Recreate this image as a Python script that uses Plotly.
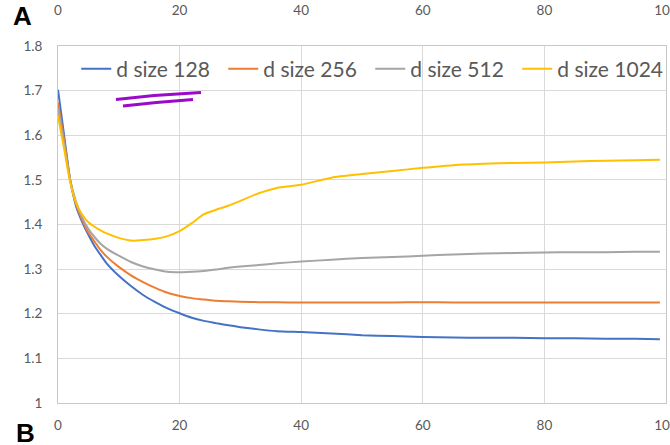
import plotly.graph_objects as go

# ---- data ----
x_vals = [0, 1, 2, 3, 4, 5, 6, 7, 8, 10, 12, 14, 16, 18, 20, 22, 24, 26, 28, 30,
          33, 36, 40, 45, 50, 55, 60, 65, 70, 75, 80, 85, 90, 95, 99]

d128 = [1.702, 1.60, 1.50, 1.44, 1.405, 1.377, 1.352, 1.332, 1.313, 1.285, 1.262, 1.242,
        1.226, 1.212, 1.201, 1.191, 1.184, 1.179, 1.174, 1.170,
        1.165, 1.161, 1.159, 1.156, 1.152, 1.150, 1.148, 1.147, 1.146, 1.146, 1.145, 1.145, 1.144, 1.144, 1.143]

d256 = [1.673, 1.59, 1.50, 1.445, 1.41, 1.382, 1.362, 1.343, 1.328, 1.305, 1.286, 1.271,
        1.258, 1.247, 1.240, 1.235, 1.232, 1.229, 1.228, 1.227,
        1.226, 1.226, 1.225, 1.225, 1.225, 1.225, 1.226, 1.225, 1.225, 1.225, 1.225, 1.225, 1.225, 1.225, 1.225]

d512 = [1.660, 1.58, 1.50, 1.45, 1.415, 1.39, 1.372, 1.357, 1.346, 1.330, 1.316, 1.306,
        1.299, 1.294, 1.293, 1.294, 1.296, 1.299, 1.303, 1.306,
        1.309, 1.313, 1.317, 1.321, 1.325, 1.327, 1.330, 1.333, 1.335, 1.336, 1.337, 1.338, 1.338, 1.339, 1.339]

d1024 = [1.643, 1.57, 1.495, 1.447, 1.422, 1.405, 1.395, 1.387, 1.380, 1.370, 1.364, 1.365,
         1.368, 1.374, 1.385, 1.403, 1.423, 1.433, 1.442, 1.453,
         1.470, 1.482, 1.489, 1.505, 1.513, 1.520, 1.527, 1.533, 1.536, 1.538, 1.539, 1.541, 1.543, 1.544, 1.545]

series_names = ["d size 128", "d size 256", "d size 512", "d size 1024"]
series_values = [d128, d256, d512, d1024]
series_colors = ["#4472C4", "#ED7D31", "#A5A5A5", "#FFC000"]

x_ticks = [0, 20, 40, 60, 80, 100]
y_ticks = [1.0, 1.1, 1.2, 1.3, 1.4, 1.5, 1.6, 1.7, 1.8]

# ---- figure ----
fig = go.Figure()
for name, vals, col in zip(series_names, series_values, series_colors):
    fig.add_trace(go.Scatter(x=x_vals, y=vals, name=name, mode="lines",
                             line=dict(color=col, width=2, shape="spline", smoothing=0.6)))

# invisible carrier so the top (secondary) x axis is drawn
fig.add_trace(go.Scatter(x=x_vals, y=d128, xaxis="x2", yaxis="y", mode="lines",
                         line=dict(color="rgba(0,0,0,0)", width=0), showlegend=False,
                         hoverinfo="skip"))

tick_font = dict(family="Lato, Open Sans, sans-serif", size=13.5, color="#595959")

W, H = 670, 445
L, R, T, B = 58, 4, 46, 42

fig.update_layout(
    width=W, height=H,
    margin=dict(l=L, r=R, t=T, b=B, pad=0, autoexpand=False),
    paper_bgcolor="white", plot_bgcolor="white",
    showlegend=True,
    legend=dict(orientation="h", x=0.03, xanchor="left", y=0.935, yanchor="middle",
                font=dict(family="Lato, Open Sans, sans-serif", size=21, color="#595959"),
                bgcolor="rgba(0,0,0,0)", entrywidth=102, entrywidthmode="pixels",
                itemwidth=30, tracegroupgap=0),
    xaxis=dict(range=[0, 100], tickvals=x_ticks, showgrid=True, gridcolor="#D9D9D9",
               gridwidth=1, showline=True, linecolor="#C8C8C8", linewidth=1, mirror=True,
               zeroline=False, ticks="", tickfont=tick_font, ticklabelstandoff=10,
               ticklabeloverflow="allow"),
    xaxis2=dict(range=[0, 100], tickvals=x_ticks, overlaying="x", side="top", anchor="y",
                showgrid=False, showline=False, zeroline=False, ticks="",
                tickfont=tick_font, ticklabelstandoff=27, ticklabeloverflow="allow"),
    yaxis=dict(range=[1.0, 1.8], tickvals=y_ticks, showgrid=True, gridcolor="#D9D9D9",
               gridwidth=1, showline=True, linecolor="#C8C8C8", linewidth=1, mirror=True,
               zeroline=False, ticks="", tickfont=tick_font, ticklabelstandoff=12),
)

# ---- panel labels ----
fig.add_annotation(text="<b>A</b>", xref="paper", yref="paper",
                   x=(22.5 - L) / 608, y=(403 - 16) / 357,
                   xanchor="center", yanchor="middle",
                   showarrow=False, font=dict(family="Liberation Sans, Arial", size=26, color="black"))
fig.add_annotation(text="<b>B</b>", xref="paper", yref="paper",
                   x=(25.5 - L) / 608, y=(403 - 433) / 357,
                   xanchor="center", yanchor="middle",
                   showarrow=False, font=dict(family="Liberation Sans, Arial", size=26, color="black"))

# ---- hand-drawn purple underline (decoration) ----
def px_to_paper(px, py):
    return (px - L) / (W - L - R), (H - B - py) / (H - T - B)

def stroke(pts):
    conv = [px_to_paper(*p) for p in pts]
    path = "M {} {}".format(*conv[0])
    path += " Q {} {} {} {}".format(*conv[1], *conv[2])
    return path

fig.add_shape(type="path", xref="paper", yref="paper",
              path=stroke([(116, 99.5), (158, 94.5), (201, 92.5)]),
              line=dict(color="#9A0AC8", width=3))
fig.add_shape(type="path", xref="paper", yref="paper",
              path=stroke([(123, 106), (158, 102), (193, 99.5)]),
              line=dict(color="#9A0AC8", width=3))

fig.write_html("out.html", config={"displayModeBar": False})

# remove default page margin so the figure fills the window exactly
with open("out.html", "r", encoding="utf-8") as f:
    html = f.read()
html = html.replace("<body>", '<body style="margin:0;overflow:hidden">', 1)
with open("out.html", "w", encoding="utf-8") as f:
    f.write(html)
